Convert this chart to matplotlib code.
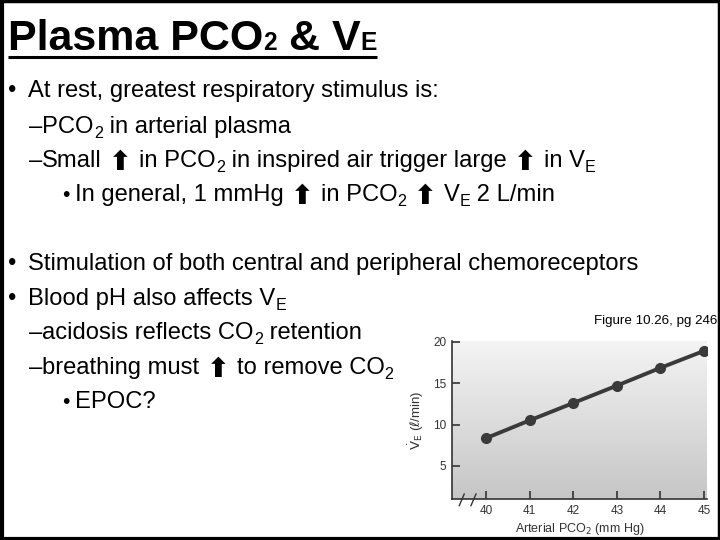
import matplotlib
matplotlib.use("Agg")
import matplotlib.pyplot as plt
import numpy as np

# ---- data ----
pco2 = [40, 41, 42, 43, 44, 45]
ve = [8.35, 10.5, 12.6, 14.7, 16.85, 18.9]
yticks = [5, 10, 15, 20]

NARROW = ['Liberation Sans Narrow', 'Liberation Sans', 'DejaVu Sans']
ARIAL = ['Liberation Sans', 'DejaVu Sans']
ARROW = ['DejaVu Sans']

fig = plt.figure(figsize=(7.2, 5.4), dpi=100)
fig.patch.set_facecolor('white')
ov = fig.add_axes([0, 0, 1, 1])
ov.set_xlim(0, 720)
ov.set_ylim(540, 0)
ov.axis('off')
renderer = fig.canvas.get_renderer()

BODY = 17.1


def runs(x, y, parts):
    """parts: list of (text, size, kind, dy, weight)"""
    for p in parts:
        txt, size, kind, dy, weight = p
        fam = {'n': NARROW, 'a': ARIAL, 'arrow': ARROW}[kind]
        t = ov.text(x, y + dy, txt, fontsize=size, family=fam, fontweight=weight,
                    va='baseline', ha='left', color='black')
        bb = t.get_window_extent(renderer)
        x += bb.width
    return x


def N(t, dy=0):
    return (t, BODY, 'n', dy, 'normal')


def SUB(t):
    return (t, BODY * 0.68, 'n', 5, 'normal')


def UP():
    return ('\u2b06', 19.5, 'arrow', 3, 'bold')


def SP():
    return (' ', BODY * 1.1, 'n', 0, 'normal')


# title
TS = 31
x = runs(8, 50, [('Plasma PCO', TS, 'a', 0, 'bold'), ('2', TS * 0.57, 'a', 0, 'bold'),
                 (' & V', TS, 'a', 0, 'bold'), ('E', TS * 0.57, 'a', 0, 'bold')])
ov.plot([8, x], [57, 57], color='black', lw=2.2, solid_capstyle='butt')

# bullets
def bullet(xb, y, size=BODY):
    ov.text(xb, y, '\u2022', fontsize=size, family=ARIAL, va='baseline', ha='left')


bullet(8, 97)
runs(28, 97, [N('At rest, greatest respiratory stimulus is:')])

runs(29, 133, [N('\u2013'), N('PCO'), SUB('2'), N(' in arterial plasma')])
runs(29, 167, [N('\u2013'), N('Small'), SP(), UP(), SP(), N('in PCO'), SUB('2'),
               N(' in inspired air trigger large'), SP(), UP(), SP(), N('in V'), SUB('E')])
bullet(62, 201, BODY * 0.9)
runs(75, 201, [N('In general, 1 mmHg'), SP(), UP(), SP(), N('in PCO'), SUB('2'), SP(),
               UP(), SP(), N('V'), SUB('E'), N(' 2 L/min')])

bullet(8, 270)
runs(28, 270, [N('Stimulation of both central and peripheral chemoreceptors')])
bullet(8, 305)
runs(28, 305, [N('Blood pH also affects V'), SUB('E')])
runs(29, 339, [N('\u2013'), N('acidosis reflects CO'), SUB('2'), N(' retention')])
runs(29, 374, [N('\u2013'), N('breathing must'), SP(), UP(), SP(), N('to remove CO'), SUB('2')])
bullet(62, 408, BODY * 0.9)
runs(75, 408, [N('EPOC?')])

ov.text(717, 324, 'Figure 10.26, pg 246', fontsize=9.6, family=ARIAL, ha='right',
        va='baseline', color='black')

# border
ov.plot([1, 1, 718.5, 718.5, 1], [538.5, 1, 1, 538.5, 538.5], color='black', lw=2.5,
        clip_on=False)
ov.plot([0, 720], [539, 539], color='black', lw=3, clip_on=False)
ov.plot([1.5, 1.5], [0, 540], color='black', lw=3, clip_on=False)

# ---- chart ----
ax = fig.add_axes([452 / 720, 41 / 540, 255 / 720, 158 / 540])
grad = np.linspace(0, 1, 256).reshape(-1, 1)
ax.imshow(grad, extent=[0, 1, 0, 1], transform=ax.transAxes, aspect='auto',
          cmap=matplotlib.colors.LinearSegmentedColormap.from_list(
              'g', ['#c6c6c6', '#f4f4f4']), origin='lower', zorder=0)
ax.plot(pco2, ve, color='#3a3a3a', lw=2.8, marker='o', markersize=7,
        markerfacecolor='#3a3a3a', markeredgecolor='#3a3a3a', zorder=3)
ax.set_xlim(39.22, 45.07)
ax.set_ylim(1.0, 20.1)
ax.set_xticks(pco2)
ax.set_yticks(yticks)
for s in ['top', 'right']:
    ax.spines[s].set_visible(False)
for s in ['left', 'bottom']:
    ax.spines[s].set_color('#333333')
    ax.spines[s].set_linewidth(1.2)
ax.tick_params(axis='both', direction='in', length=6, width=1.2, color='#333333',
               labelsize=8.5, labelcolor='#333333', pad=4)
for lab in ax.get_xticklabels() + ax.get_yticklabels():
    lab.set_family(ARIAL)
ax.set_xlabel('Arterial PCO$_2$ (mm Hg)', fontsize=9, family=ARIAL, color='#333333',
              labelpad=3)
ax.set_ylabel(r'$\dot{\mathrm{V}}_\mathrm{E}$ ($\ell$/min)', fontsize=9.5, family=ARIAL,
              color='#333333', labelpad=5)
for xs in [(39.387, 39.50), (39.655, 39.77)]:
    ax.plot(xs, [0.2, 1.6], color='#333333', lw=1.0, clip_on=False, zorder=4)

fig.savefig('out.png', dpi=100)
